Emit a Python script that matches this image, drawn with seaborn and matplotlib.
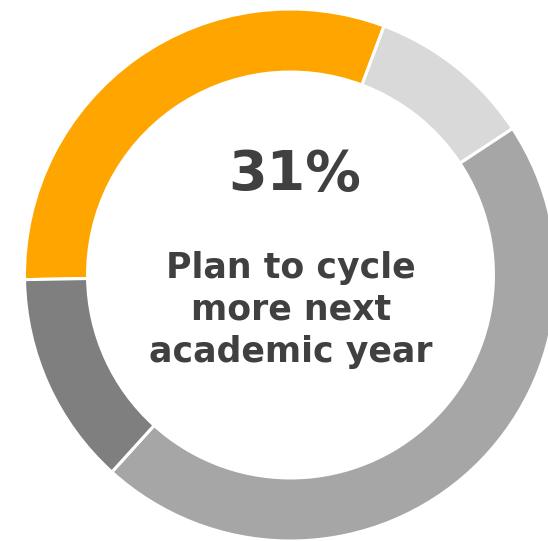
import matplotlib
matplotlib.use("Agg")
import matplotlib.pyplot as plt
import seaborn as sns

# Share of respondents by cycling plan for next academic year
categories = ["Cycle more", "Cycle less", "Same as now", "Don't know"]
shares = [31, 10, 46, 13]
colors = ["#FFA500", "#D9D9D9", "#A6A6A6", "#7F7F7F"]

headline = "31%"
caption_lines = ["Plan to cycle", "more next", "academic year"]

sns.set_theme(style="white")
plt.rcParams["font.family"] = ["DejaVu Sans"]

W, H = 548, 541
cx, cy, R = 290.5, 275, 266  # ring centre and outer radius in pixels

fig = plt.figure(figsize=(W / 100, H / 100), dpi=100)
ax = fig.add_axes([0, 0, 1, 1])

ax.pie(
    shares,
    colors=colors,
    startangle=181.0,
    counterclock=False,
    radius=1.0,
    wedgeprops=dict(width=0.237, edgecolor="white", linewidth=2.2),
)

ax.set_xlim(-cx / R, (W - cx) / R)
ax.set_ylim(-(H - cy) / R, cy / R)
ax.set_aspect("auto")
ax.axis("off")

def to_data(px, py):
    return (px - cx) / R, (cy - py) / R

text_color = "#404040"
x0, y0 = to_data(295, 190.5)
ax.text(x0, y0, headline, ha="center", va="baseline", fontsize=40,
        fontweight="bold", color=text_color)

for line, base in zip(caption_lines, [278, 320, 362]):
    x, y = to_data(291, base)
    ax.text(x, y, line, ha="center", va="baseline", fontsize=25,
            fontweight="bold", color=text_color)

fig.savefig("out.png", dpi=100, facecolor="white")
